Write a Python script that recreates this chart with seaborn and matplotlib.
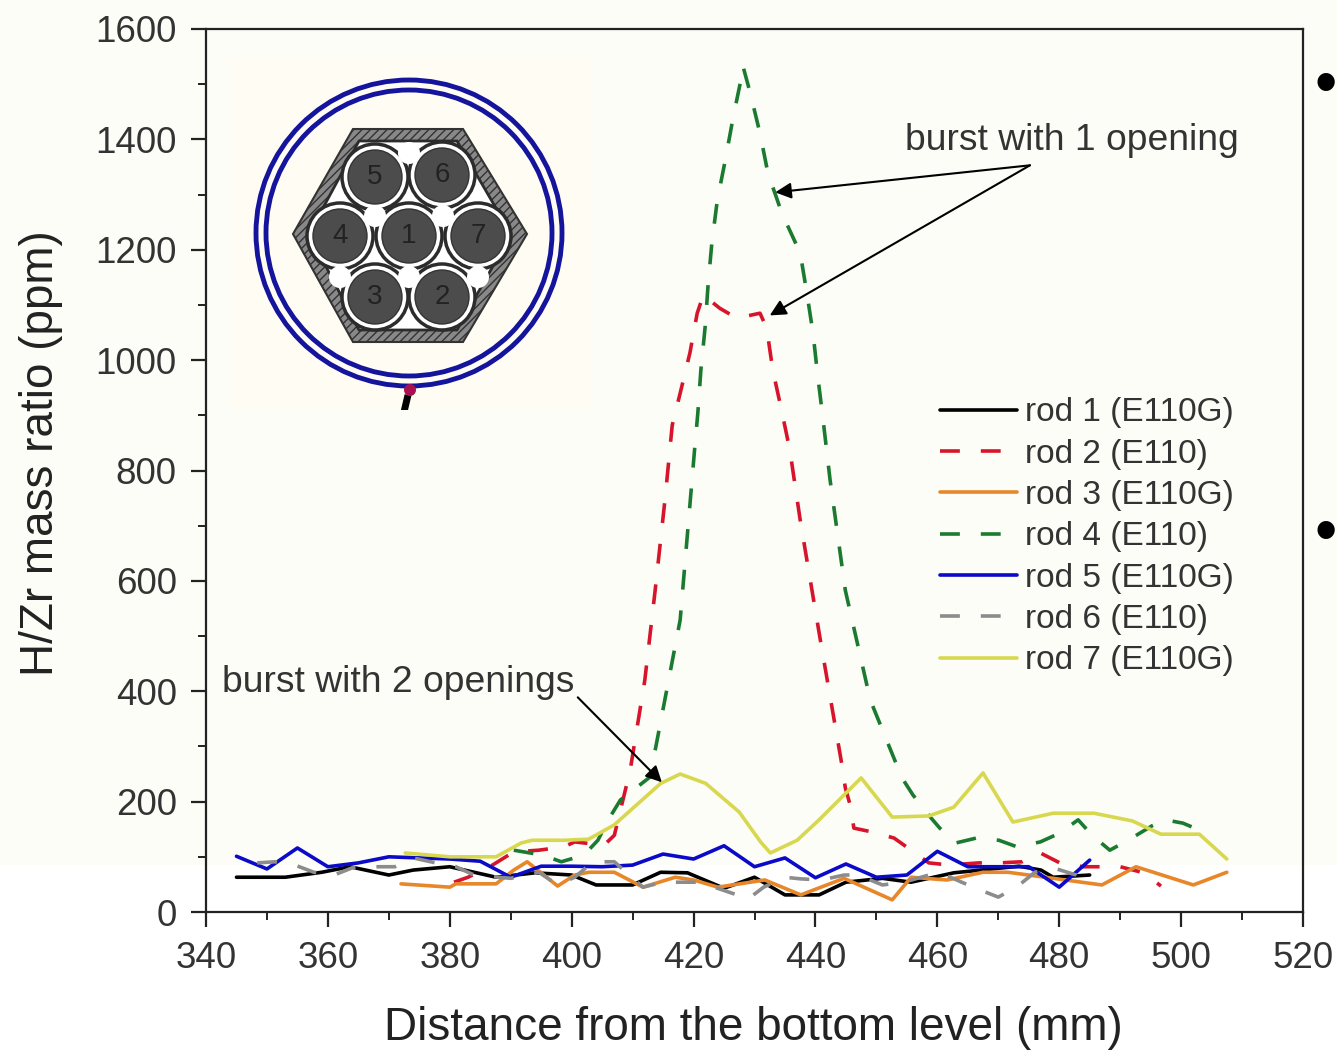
import numpy as np
import pandas as pd
import matplotlib.pyplot as plt
import seaborn as sns
from matplotlib.patches import Circle, Polygon, Rectangle

rod_names = ["rod 1 (E110G)", "rod 2 (E110)", "rod 3 (E110G)", "rod 4 (E110)",
             "rod 5 (E110G)", "rod 6 (E110)", "rod 7 (E110G)"]
rod_colors = ["#000000", "#d8142c", "#e8862a", "#1a7a30", "#0a0ac8", "#8c8c8c", "#d8d850"]
x_ticks = [340, 360, 380, 400, 420, 440, 460, 480, 500, 520]
y_ticks = [0, 200, 400, 600, 800, 1000, 1200, 1400, 1600]

rod1_x = [345, 353, 359, 363.6, 370, 374, 380, 387.6, 394, 400, 404, 410, 414.6, 419, 425, 430,
          435, 440.6, 445, 451, 455.7, 462.7, 473.4, 477, 479, 485]
rod1_y = [63, 63, 72, 82, 67, 76, 82, 63, 71, 67, 49, 49, 72, 71, 43, 63,
          31, 31, 54, 61, 54, 71, 83, 76, 63, 67]

rod2_x = [380.7, 383, 387, 390.5, 394.6, 398.7, 400.5, 405.3, 407, 409.6, 412, 413.7, 415.3, 416.5,
          417.8, 419.4, 420.6, 421.6, 424.3, 427.1, 430.9, 432, 433, 434.5, 435.8, 437.5, 440.8,
          444.4, 444.9, 445.8, 446.3, 449.3, 452.9, 455.7, 458.6, 462, 466.8, 470.1, 473.9,
          476.9, 480.1, 483.9, 486.9, 490, 493.9, 496.7]
rod2_y = [54, 63, 85, 109, 112, 118, 127, 121, 139, 257, 420, 583, 746, 882,
          940, 1013, 1085, 1118, 1094, 1076, 1085, 1058, 982, 906, 837, 710, 493,
          263, 225, 190, 152, 145, 134, 112, 89, 85, 89, 89, 91,
          107, 89, 82, 82, 82, 71, 47]

rod3_x = [372, 380, 381, 387.6, 390.5, 392.7, 395, 397.7, 400.5, 402.8, 407, 411.7, 417, 420, 424,
          431.7, 437.6, 444.7, 452.6, 455.7, 461.6, 467.5, 471.6, 479, 487, 492.6, 502, 507.5]
rod3_y = [51, 45, 51, 51, 76, 91, 71, 47, 67, 72, 72, 45, 63, 58, 45,
          58, 31, 61, 22, 63, 58, 72, 72, 61, 49, 82, 49, 72]

rod4_x = [390.5, 395.3, 398.3, 402, 404.3, 406, 408, 410.7, 412.9, 413.7, 417.8, 420.2, 420.7, 421.2,
          421.9, 422.4, 423, 423.9, 425.2, 426.5, 428, 428.1, 429.3, 430.9, 432.2, 434.5, 437.5,
          438.6, 439.6, 440.4, 441.2, 442.4, 444.9, 449, 454.2, 456, 459, 460.4, 463, 466.4,
          470.1, 473.1, 476.9, 480.1, 483.1, 485.4, 488.3, 491.3, 495.2, 497.4, 500.3, 503.3]
rod4_y = [112, 103, 91, 103, 130, 167, 203, 226, 245, 293, 529, 842, 904, 982,
          1060, 1139, 1212, 1290, 1362, 1440, 1520, 1533, 1484, 1411, 1339, 1266, 1194,
          1121, 1049, 969, 897, 783, 583, 384, 243, 212, 170, 152, 125, 134,
          130, 118, 127, 143, 167, 139, 112, 130, 156, 167, 161, 147]

rod5_x = [345, 350, 355, 360, 365, 370, 375, 380, 385, 390, 395, 400, 405, 410, 415, 420, 425, 430,
          435, 440, 445, 450, 455, 460, 465, 470, 475, 480, 485]
rod5_y = [101, 78, 116, 82, 89, 100, 98, 96, 92, 63, 83, 83, 82, 85, 105, 96, 120, 82,
          98, 62, 87, 63, 67, 110, 82, 82, 82, 45, 94]

rod6_x = [348.4, 351.3, 354.6, 357.7, 361, 364, 366.6, 371, 374, 377.7, 381, 384, 390, 394.6, 397.7,
          400.5, 403.5, 407, 411.7, 415, 421, 429, 431.5, 435, 437.6, 441, 444.7, 447, 451, 454.5,
          458.6, 460.5, 464, 467, 470, 473, 476, 479, 482.8, 485]
rod6_y = [89, 91, 85, 72, 67, 80, 82, 82, 98, 89, 82, 67, 61, 72, 49,
          63, 91, 91, 45, 54, 54, 24, 45, 63, 60, 58, 67, 67, 49, 54,
          67, 71, 54, 40, 27, 45, 72, 80, 67, 47]

rod7_x = [372.7, 380, 387.6, 391.7, 393.5, 398.8, 402.8, 407, 414.6, 417.8, 422, 427.5, 431, 432.6, 437,
          440.6, 447.5, 452.6, 458.6, 462.7, 467.5, 472.4, 479, 485.7, 492, 496.7, 503, 507.5]
rod7_y = [107, 100, 100, 125, 130, 130, 132, 158, 233, 250, 233, 181, 127, 107, 130,
          167, 243, 172, 174, 190, 252, 163, 179, 179, 165, 141, 141, 96]

all_x = [rod1_x, rod2_x, rod3_x, rod4_x, rod5_x, rod6_x, rod7_x]
all_y = [rod1_y, rod2_y, rod3_y, rod4_y, rod5_y, rod6_y, rod7_y]

W, H = 1337, 1051
sns.set_theme(style="ticks")
plt.rcParams["font.family"] = ["Liberation Sans", "DejaVu Sans"]

frames = [pd.DataFrame({"x": xs, "y": ys, "rod": name}) for name, xs, ys in zip(rod_names, all_x, all_y)]
df = pd.concat(frames, ignore_index=True)

fig = plt.figure(figsize=(W / 100, H / 100), dpi=100, facecolor="white")
# cream page background stops a bit above the x axis
fig.patches.append(Rectangle((0, 1 - 865 / H), 1, 865 / H, transform=fig.transFigure,
                             facecolor="#fcfdf7", edgecolor="none", zorder=-5))
ax = fig.add_axes([206 / W, 1 - 912 / H, (1303 - 206) / W, (912 - 29) / H])
ax.patch.set_alpha(0)

dash_map = {n: "" if "E110G" in n else (5.5, 5.8) for n in rod_names}
sns.lineplot(data=df, x="x", y="y", hue="rod", style="rod", hue_order=rod_names, style_order=rod_names,
             palette=dict(zip(rod_names, rod_colors)), dashes=dash_map, estimator=None, sort=False,
             linewidth=2.6, ax=ax)

ax.set_xlim(340, 520)
ax.set_ylim(0, 1600)
ax.set_xticks(x_ticks)
ax.set_yticks(y_ticks)
ax.set_xticks(np.array(x_ticks[:-1]) + 10, minor=True)
ax.set_yticks(np.array(y_ticks[:-1]) + 100, minor=True)
ax.tick_params(which="major", length=11, width=1.6, labelsize=26.5, color="#222222", labelcolor="#333333", pad=10)
ax.tick_params(which="minor", length=6, width=1.4, color="#222222")
ax.set_xlabel("Distance from the bottom level (mm)", fontsize=33, color="#222222")
ax.set_ylabel("H/Zr mass ratio (ppm)", fontsize=33, color="#222222")
ax.xaxis.set_label_coords(0.499, -0.106)
ax.yaxis.set_label_coords(-0.13, 0.52)
for s in ax.spines.values():
    s.set_linewidth(1.6)
    s.set_color("#222222")
    s.set_visible(True)

handles, labels = ax.get_legend_handles_labels()
ax.legend(handles, labels, loc="upper left", bbox_to_anchor=(0.669, 0.583), frameon=False, fontsize=24,
          labelspacing=0.31, handlelength=2.3, handletextpad=0.25, labelcolor="#333333", borderpad=0, borderaxespad=0)

txt = "#333333"
ax.text(454.7, 1380, "burst with 1 opening", fontsize=26.8, color=txt, va="baseline")
ax.text(342.6, 398, "burst with 2 openings", fontsize=26.8, color=txt, va="baseline")
arrow = dict(arrowstyle="-|>", color="black", lw=1.5, mutation_scale=24, shrinkA=0, shrinkB=0)
ax.annotate("", xy=(433.4, 1304), xytext=(475.2, 1353), arrowprops=arrow)
ax.annotate("", xy=(432.5, 1081), xytext=(475.2, 1353), arrowprops=arrow)
ax.annotate("", xy=(414.8, 235), xytext=(401, 389), arrowprops=arrow)

# bullets of the slide at the right edge
fig.text(1337 / W, 1 - 87 / H, "•", fontsize=46, color="black", ha="right", va="center")
fig.text(1337 / W, 1 - 535 / H, "•", fontsize=46, color="black", ha="right", va="center")

# bundle cross section, axes in image pixels
ins = fig.add_axes([232 / W, 1 - 410 / H, (590 - 232) / W, (410 - 58) / H])
ins.set_xlim(232, 590)
ins.set_ylim(410, 58)
ins.set_facecolor("#fffdf3")
ins.set_xticks([])
ins.set_yticks([])
for s in ins.spines.values():
    s.set_visible(False)
ins.add_patch(Circle((409, 233), 153, fc="none", ec="#14149c", lw=3.5))
ins.add_patch(Circle((409, 233), 143, fc="none", ec="#14149c", lw=3.5))
hex_out = [(293, 234), (353, 129), (463, 129), (527, 234), (463, 342), (353, 342)]
hex_in = [(309, 234), (359, 141), (457, 141), (511, 234), (457, 330), (359, 330)]
ins.add_patch(Polygon(hex_out, fc="#888888", ec="#333333", lw=1.5, hatch="////"))
ins.add_patch(Polygon(hex_in, fc="white", ec="#2c2c2c", lw=2))
rods = {"5": (375, 177), "6": (442, 175), "4": (340, 236), "1": (409, 236),
        "7": (478, 236), "3": (375, 297), "2": (442, 297)}
for c in rods.values():
    ins.add_patch(Circle(c, 33, fc="white", ec="#2c2c2c", lw=2.5, zorder=2))
for c in [(375, 216), (443, 216), (340, 277), (409, 277), (478, 277), (409, 153)]:
    ins.add_patch(Circle(c, 11, fc="white", ec="none", zorder=3))
for label, c in rods.items():
    ins.add_patch(Circle(c, 27, fc="#4c4c4c", ec="#333333", lw=1, zorder=4))
    ins.text(c[0], c[1], label, fontsize=20, color="#222222", ha="center", va="center", zorder=5)
ins.plot([408, 404], [395, 412], color="black", lw=5, solid_capstyle="butt")
ins.add_patch(Circle((410, 390), 6, fc="#a81050", ec="none", zorder=6))

fig.savefig("out.png", dpi=100)
